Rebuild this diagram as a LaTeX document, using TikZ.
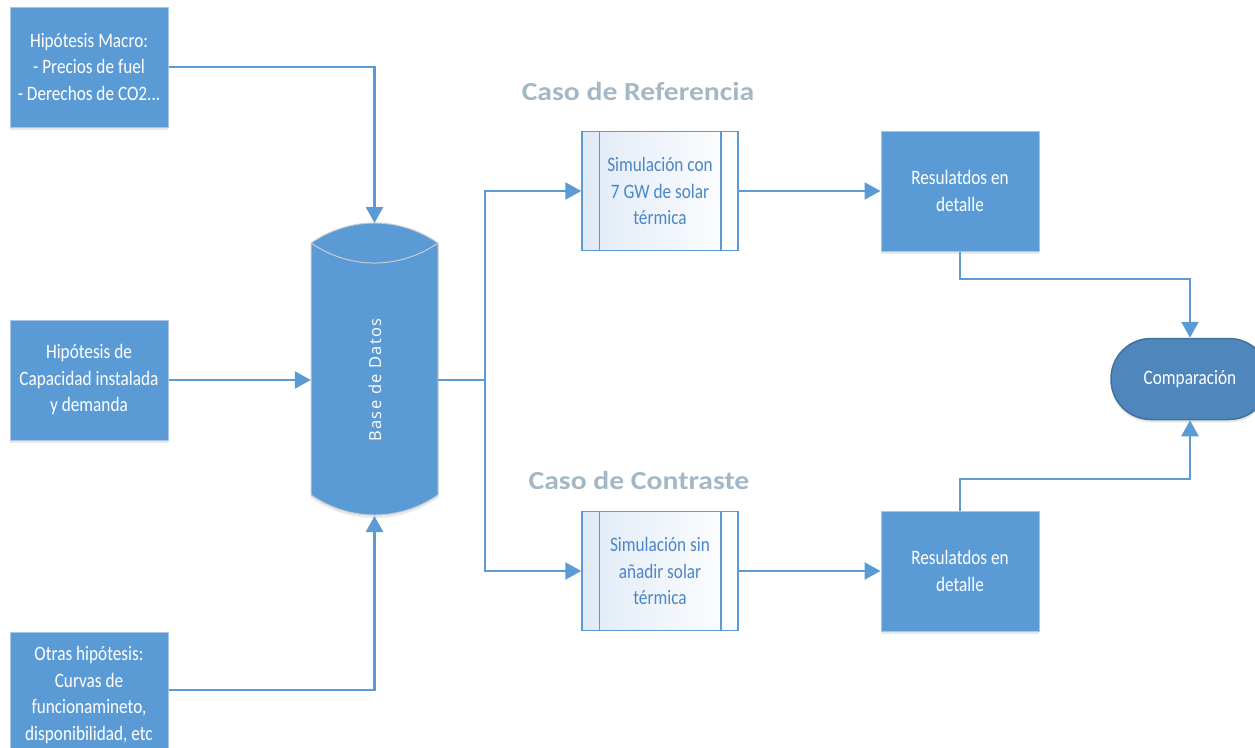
\documentclass[tikz,border=0pt]{standalone}
\usepackage{fontspec}
\setmainfont{Carlito}[FakeStretch=0.84]
\newfontfamily\dbfont{Open Sans}[LetterSpace=8]
\newfontfamily\lblfont{Carlito}[FakeStretch=1.14]
\usetikzlibrary{arrows.meta,shadows}
\definecolor{boxblue}{HTML}{5B9BD5}
\definecolor{boxedge}{HTML}{A9C6E8}
\definecolor{compfill}{HTML}{4F87BC}
\definecolor{compedge}{HTML}{41719C}
\definecolor{simtext}{HTML}{4A86C8}
\definecolor{simleft}{HTML}{E0EAF6}
\definecolor{lblgray}{HTML}{A3B8C4}
\definecolor{cyledge}{HTML}{C8CDD3}
\tikzset{
  bodyfont/.style={font=\fontsize{20.5}{26.5}\selectfont},
  inbox/.style={draw=boxedge, line width=1pt, fill=boxblue, text=white,
    minimum width=158, minimum height=120, align=center, inner sep=0, bodyfont,
    drop shadow={opacity=0.18, shadow xshift=0pt, shadow yshift=-3pt}},
  simbox/.style={draw=boxblue, line width=1.5pt, left color=simleft, right color=white,
    text=simtext, minimum width=156, minimum height=119, align=center, inner sep=0, bodyfont},
  simline/.style={draw=boxblue, line width=1.5pt},
  compbox/.style={draw=compedge, line width=1.5pt, fill=compfill, text=white,
    minimum width=158, minimum height=81, rounded corners=40, inner sep=0, bodyfont,
    drop shadow={opacity=0.18, shadow xshift=0pt, shadow yshift=-3pt}},
  conn/.style={draw=boxblue, line width=2.5pt, -{Triangle[length=16pt,width=17pt]}},
  plain/.style={draw=boxblue, line width=2.5pt},
  caso/.style={text=lblgray, font=\lblfont\bfseries\fontsize{26}{30}\selectfont, inner sep=0}
}
\begin{document}
\begin{tikzpicture}[x=1pt,y=-1pt]
\useasboundingbox (0,0) rectangle (1255,747);
\clip (0,0) rectangle (1255,747);
% input boxes
\node[inbox] (m1) at (89,67) {Hipótesis Macro:\\- Precios de fuel\\- Derechos de CO2...};
\node[inbox] (m2) at (89,380) {Hipótesis de\\Capacidad instalada\\y demanda};
\node[inbox, minimum height=116] (m3) at (89,690) {};
\node[text=white, align=center, inner sep=0, bodyfont] (m3t) at (89,695) {Otras hipótesis:\\Curvas de\\funcionamineto,\\disponibilidad, etc};
% database cylinder
\node[minimum width=127, minimum height=252, inner sep=0] (db) at (374.5,369) {};
\fill[boxblue, drop shadow={opacity=0.18, shadow xshift=0pt, shadow yshift=-3pt}]
  (311,243) .. controls (350,216.3) and (399,216.3) .. (438,243) -- (438,495)
  .. controls (399,521.7) and (350,521.7) .. (311,495) -- cycle;
\draw[cyledge, line width=1pt]
  (311,243) .. controls (350,216.3) and (399,216.3) .. (438,243) -- (438,495)
  .. controls (399,521.7) and (350,521.7) .. (311,495) -- cycle;
\draw[cyledge, line width=1pt] (311,243) .. controls (350,269.7) and (399,269.7) .. (438,243);
\node[rotate=90, text=white, inner sep=0, font=\dbfont\fontsize{16.5}{18}\selectfont] (dbl) at (375,380) {Base de Datos};
\coordinate (dbtop) at (374.5,223);
\coordinate (dbbot) at (374.5,516);
% simulations
\node[simbox] (sim1) at (660,191) {Simulación con\\7 GW de solar\\térmica};
\node[simbox] (sim2) at (660,571) {Simulación sin\\añadir solar\\térmica};
\foreach \s in {sim1,sim2}{
  \draw[simline] ([xshift=18pt]\s.north west) -- ([xshift=18pt]\s.south west);
  \draw[simline] ([xshift=-18pt]\s.north east) -- ([xshift=-18pt]\s.south east);
}
% results
\node[inbox] (res1) at (960,191) {Resulatdos en\\detalle};
\node[inbox] (res2) at (960,571) {Resulatdos en\\detalle};
\node[compbox] (comp) at (1190,379) {Comparación};
% labels
\node[caso] (lref) at (638,91) {Caso de Referencia};
\node[caso] (lcon) at (639,480) {Caso de Contraste};
% connectors
\draw[conn] (m1.east) -| (dbtop);
\draw[conn] (m2.east) -- (m2.east -| db.west);
\draw[conn] (m3.east) -| (dbbot);
\coordinate (split) at (485,380);
\draw[plain] (db.east |- m2.east) -- (split);
\draw[conn] (split) |- (sim1.west);
\draw[conn] (split) |- (sim2.west);
\draw[conn] (sim1) -- (res1);
\draw[conn] (sim2) -- (res2);
\coordinate (j1) at (1190,279);
\coordinate (j2) at (1190,479);
\draw[conn] (res1.south) |- (j1) -- (comp.north);
\draw[conn] (res2.north) |- (j2) -- (comp.south);
\end{tikzpicture}
\end{document}
